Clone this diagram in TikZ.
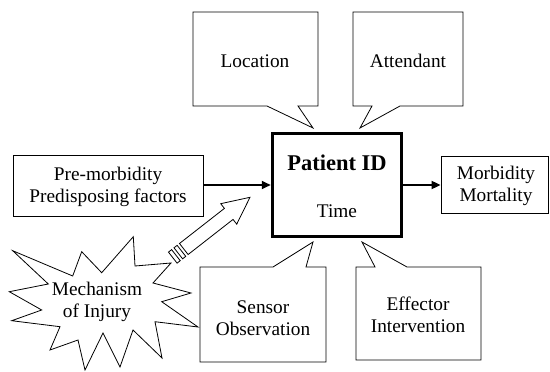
\documentclass[tikz,border=0pt]{standalone}
\usepackage{fontspec}
\setmainfont{Liberation Serif}
\usetikzlibrary{arrows.meta}
\begin{document}
\begin{tikzpicture}[x=1pt,y=-1pt,
  txt/.style={font=\fontsize{19.3}{22.5}\selectfont, align=center, inner sep=0pt},
  thin/.style={draw=black, line width=0.8pt, line join=miter},
  boxn/.style={draw=black, line width=0.8pt, inner sep=0pt},
  conn/.style={line width=1.8pt, -{Triangle[length=9pt,width=8pt]}}]
\useasboundingbox (0,0) rectangle (550,372);
% callouts
\draw[thin] (193,12) -- (318,12) -- (318,106) -- (298,106) -- (313,128) -- (267,106) -- (193,106) -- cycle;
\node[txt] (loc) at (255,61) {Location};
\draw[thin] (353,12) -- (463,12) -- (463,106) -- (400,106) -- (360,128) -- (372,106) -- (353,106) -- cycle;
\node[txt] (att) at (408,61) {Attendant};
\draw[thin] (200,267) -- (273,267) -- (313,242) -- (306,267) -- (326,267) -- (326,362) -- (200,362) -- cycle;
\node[txt] (sen) at (263,318) {Sensor\\Observation};
\draw[thin] (356,267) -- (375,267) -- (362,242) -- (407,267) -- (481,267) -- (481,360) -- (356,360) -- cycle;
\node[txt] (eff) at (418,315) {Effector\\Intervention};
% main boxes
\node[draw=black, line width=3.5pt, minimum width=129pt, minimum height=103pt, inner sep=0pt] (pat) at (337,185) {};
\node[txt, font=\fontsize{22.5}{24}\selectfont\bfseries] (pid) at (337,163) {Patient ID};
\node[txt] (time) at (337,211) {Time};
\node[boxn, minimum width=190pt, minimum height=61pt] (pre) at (108,185.5) {};
\node[txt] (pretxt) at (108,187) {Pre-morbidity\\Predisposing factors};
\node[boxn, minimum width=107pt, minimum height=57pt] (mor) at (494.5,184.5) {};
\node[txt] (mortxt) at (496,186) {Morbidity\\Mortality};
\draw[conn] (pre.east |- 0,185) -- (pat.west |- 0,185);
\draw[conn] (pat.east |- 0,185) -- (mor.west |- 0,185);
% star
\draw[thin] (12.7,250.7) -- (72.7,276) -- (81.7,251.7) -- (101.7,272.7) -- (133.3,236.7) -- (135,266)
  -- (171,263) -- (153,283) -- (191,293) -- (161.7,301.7) -- (198,327) -- (155,321.7)
  -- (162,358) -- (133,330) -- (120,367) -- (103,333) -- (85,370) -- (78,340)
  -- (50,350) -- (60,326.7) -- (11.7,320.7) -- (41.7,310) -- (9.3,291.7) -- (48.3,284) -- cycle;
\node[txt] (mech) at (97,302) {Mechanism\\of Injury};
% striped hollow arrow
\begin{scope}[shift={(250,197.3)}, rotate=38]
  \draw[thin, fill=white] (0,0) -- (-27,-13) -- (-27,-7) -- (-84,-7) -- (-84,7) -- (-27,7) -- (-27,13) -- cycle;
  \draw[thin] (-87,-7) rectangle (-91,7);
  \draw[thin] (-94,-7) rectangle (-98,7);
\end{scope}
\end{tikzpicture}
\end{document}
